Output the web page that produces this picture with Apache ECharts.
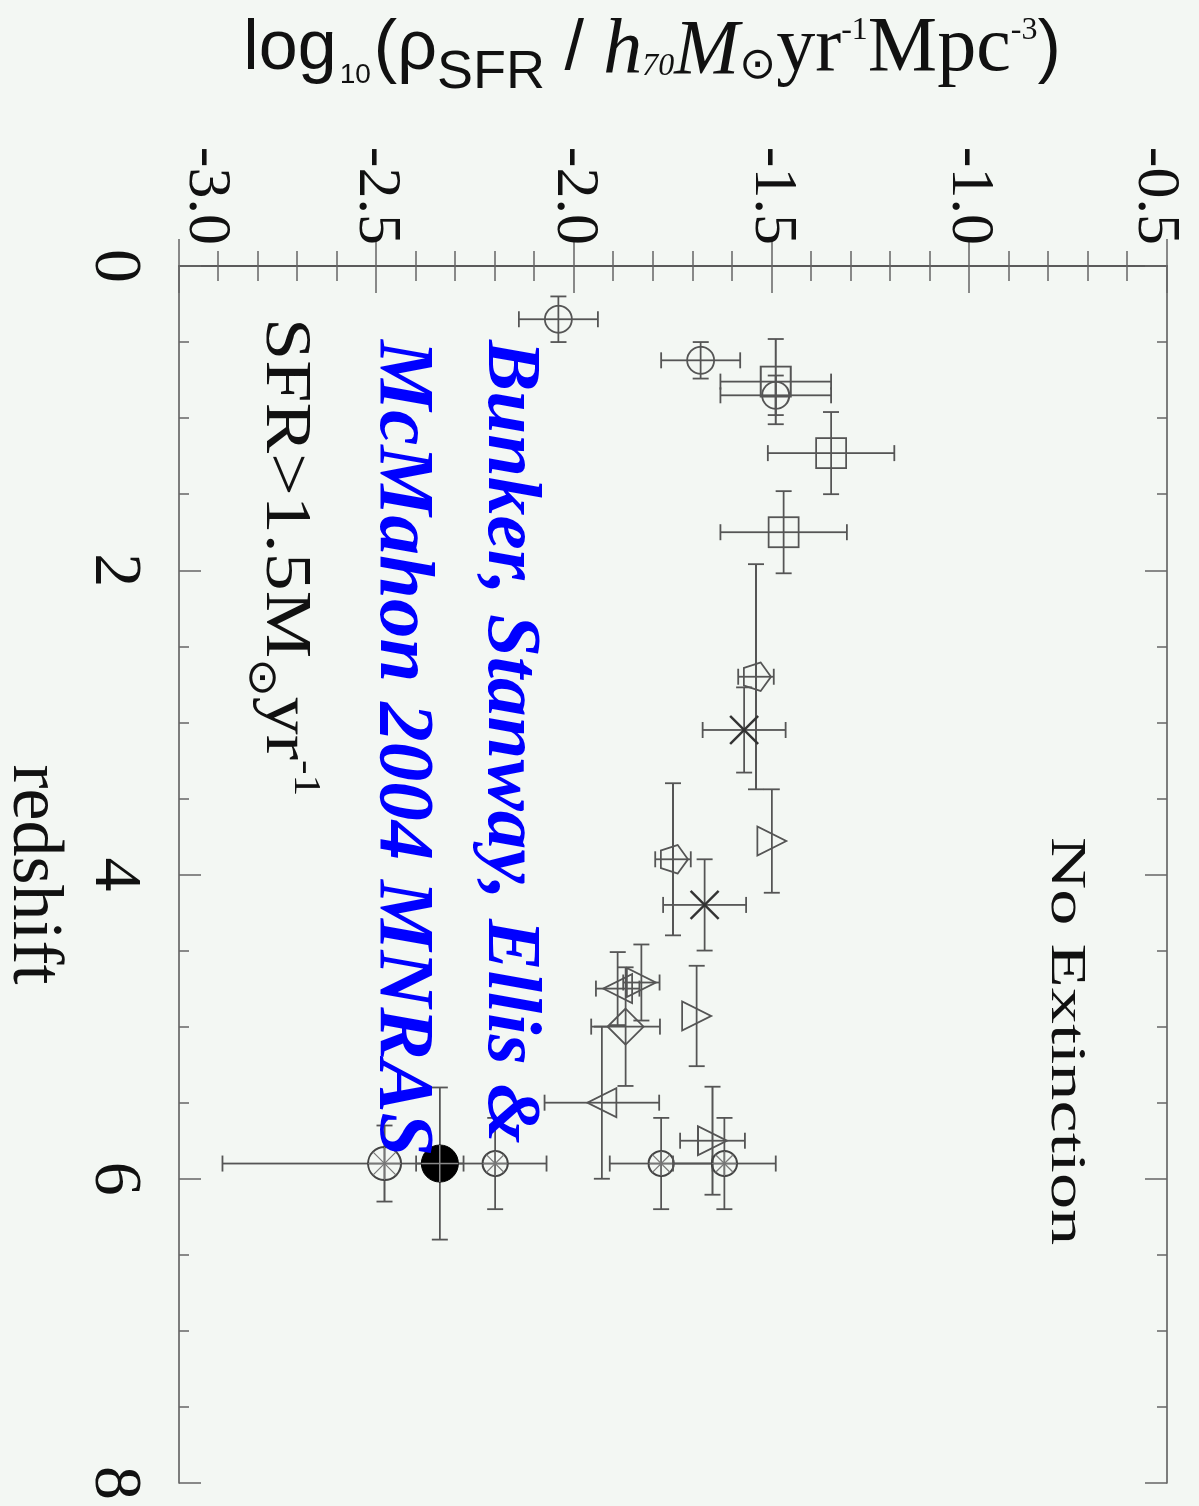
<!DOCTYPE html>
<html><head><meta charset="utf-8">
<script src="https://cdn.jsdelivr.net/npm/echarts@6/dist/echarts.min.js"></script>
<style>
html,body{margin:0;padding:0;width:1199px;height:1506px;overflow:hidden;background:#f3f7f3;}
#chart{position:absolute;left:0;top:0;width:1506px;height:1199px;transform-origin:0 0;transform:translateX(1199px) rotate(90deg);}
</style></head><body><div id="chart"></div>
<script>
// Each point: [redshift, log10 SFR density, redshift half-width, SFR error minus, SFR error plus]
const circlesCross   = [[0.35,-2.04,0.15,0.10,0.10],[0.62,-1.68,0.12,0.10,0.10],[0.85,-1.49,0.13,0.14,0.14]];
const squares        = [[0.76,-1.49,0.28,0.14,0.14],[1.23,-1.35,0.27,0.16,0.16],[1.75,-1.47,0.27,0.16,0.16]];
const pentagons      = [[2.70,-1.54,0.74,0.045,0.045],[3.90,-1.75,0.50,0.045,0.045]];
const crosses        = [[3.05,-1.57,0.28,0.105,0.105],[4.20,-1.67,0.30,0.105,0.105]];
const trianglesUp    = [[3.78,-1.50,0.34,0,0],[4.71,-1.83,0.25,0.046,0.046],[4.93,-1.69,0.33,0,0],[5.75,-1.65,0.355,0.082,0.082]];
const trianglesDown  = [[4.75,-1.89,0.24,0.055,0.055],[5.50,-1.93,0.50,0.145,0.145]];
const diamonds       = [[5.00,-1.87,0.39,0.087,0.087]];
const spokedLarge    = [[5.90,-2.48,0.25,0.41,0.41]];
const spokedSmall    = [[5.90,-2.20,0.30,0,0],[5.90,-1.78,0.30,0.13,0.13],[5.90,-1.62,0.30,0.13,0.13]];
const filledCircles  = [[5.90,-2.34,0.50,0.06,0.06]];

const redshiftTickLabels = ['0','2','4','6','8'];
const sfrTickLabels = ['-3.0','-2.5','-2.0','-1.5','-1.0','-0.5'];

const GRAY = '#555';
function makeRender(kind, size) {
  return function (params, api) {
    const z = api.value(0), s = api.value(1), ez = api.value(2), lo = api.value(3), hi = api.value(4);
    const c = api.coord([z, s]);
    const zl = api.coord([z - ez, s]), zr = api.coord([z + ez, s]);
    const sb = api.coord([z, s - lo]), st = api.coord([z, s + hi]);
    const cap = 8;
    const ls = {stroke: GRAY, lineWidth: 1.8, fill: 'none'};
    const ch = [];
    const line = (x1, y1, x2, y2, sty) => ch.push({type: 'line', shape: {x1, y1, x2, y2}, style: sty || ls});
    if (ez > 0) {
      line(zl[0], c[1], zr[0], c[1]);
      line(zl[0], c[1] - cap, zl[0], c[1] + cap);
      line(zr[0], c[1] - cap, zr[0], c[1] + cap);
    }
    if (lo > 0 || hi > 0) {
      line(c[0], sb[1], c[0], st[1]);
      line(c[0] - cap, sb[1], c[0] + cap, sb[1]);
      line(c[0] - cap, st[1], c[0] + cap, st[1]);
    }
    const x = c[0], y = c[1], r = size;
    const poly = pts => ch.push({type: 'polygon', shape: {points: pts}, style: ls});
    if (kind === 'circle') {
      ch.push({type: 'circle', shape: {cx: x, cy: y, r}, style: ls});
    } else if (kind === 'square') {
      ch.push({type: 'rect', shape: {x: x - r, y: y - r, width: 2 * r, height: 2 * r}, style: ls});
    } else if (kind === 'pentagon') {
      const pts = [];
      for (let k = 0; k < 5; k++) { const a = -Math.PI / 2 + k * 2 * Math.PI / 5; pts.push([x + r * Math.cos(a), y + r * Math.sin(a)]); }
      poly(pts);
    } else if (kind === 'cross') {
      const st2 = {stroke: '#333', lineWidth: 2.4};
      line(x - r, y - r, x + r, y + r, st2);
      line(x - r, y + r, x + r, y - r, st2);
    } else if (kind === 'triUp') {
      poly([[x, y - r], [x - r, y + r], [x + r, y + r]]);
    } else if (kind === 'triDown') {
      poly([[x, y + r], [x - r, y - r], [x + r, y - r]]);
    } else if (kind === 'diamond') {
      poly([[x, y - r], [x + r, y], [x, y + r], [x - r, y]]);
    } else if (kind === 'spoke') {
      ch.push({type: 'circle', shape: {cx: x, cy: y, r}, style: {stroke: '#444', lineWidth: 2, fill: 'none'}});
      const sp = {stroke: '#777', lineWidth: 1.2};
      for (let k = 0; k < 4; k++) {
        const a = k * Math.PI / 4;
        line(x - r * Math.cos(a), y - r * Math.sin(a), x + r * Math.cos(a), y + r * Math.sin(a), sp);
      }
    } else if (kind === 'filled') {
      ch.push({type: 'circle', shape: {cx: x, cy: y, r}, style: {fill: '#000', stroke: '#000'}});
      line(x - r, y, x + r, y, {stroke: '#888', lineWidth: 1.5});
      line(x, y - r, x, y + r, {stroke: '#888', lineWidth: 1.5});
    }
    return {type: 'group', children: ch};
  };
}

function ser(name, data, kind, size) {
  return {type: 'custom', name, data, coordinateSystem: 'cartesian2d', encode: {x: 0, y: 1},
          renderItem: makeRender(kind, size), silent: true, clip: false};
}

const tickStyle = {color: '#666', width: 1.5};
const axisLine = {show: true, lineStyle: {color: GRAY, width: 1.6}};

const chart = echarts.init(document.getElementById('chart'), null, {renderer: 'canvas'});
chart.setOption({
  backgroundColor: '#f3f7f3',
  animation: false,
  grid: {left: 266, right: 23, top: 32, bottom: 179, containLabel: false, outerBoundsMode: 'none'},
  xAxis: [{
    type: 'value', min: 0, max: 8, interval: 2, position: 'bottom',
    axisLine, splitLine: {show: false},
    axisTick: {inside: true, length: 22, lineStyle: tickStyle},
    minorTick: {show: true, splitNumber: 4, length: 10, lineStyle: tickStyle},
    axisLabel: {margin: 31, fontFamily: 'Liberation Serif', fontSize: 68, color: '#111',
      formatter: v => redshiftTickLabels[Math.round(v / 2)]},
    name: 'redshift', nameLocation: 'middle', nameGap: 110,
    nameTextStyle: {fontFamily: 'Liberation Serif', fontSize: 72, color: '#111'}
  }, {
    type: 'value', min: 0, max: 8, interval: 2, position: 'top',
    axisLine, splitLine: {show: false}, axisLabel: {show: false},
    axisTick: {inside: true, length: 22, lineStyle: tickStyle},
    minorTick: {show: true, splitNumber: 4, length: 10, lineStyle: tickStyle}
  }],
  yAxis: [{
    type: 'value', min: -3, max: -0.5, interval: 0.5, position: 'left',
    axisLine, splitLine: {show: false},
    axisTick: {inside: true, length: 27, lineStyle: tickStyle},
    minorTick: {show: true, splitNumber: 5, length: 15, lineStyle: tickStyle},
    axisLabel: {margin: 21, fontFamily: 'Liberation Serif', fontSize: 62, color: '#111',
      formatter: v => {
        const i = Math.round((v + 3) / 0.5);
        if (i === 0) return '{mn|' + sfrTickLabels[i] + '}';
        if (i === sfrTickLabels.length - 1) return '{mx|' + sfrTickLabels[i] + '}';
        return sfrTickLabels[i];
      },
      rich: {
        mn: {fontFamily: 'Liberation Serif', fontSize: 62, color: '#111', padding: [0, 0, 54, 0]},
        mx: {fontFamily: 'Liberation Serif', fontSize: 62, color: '#111', padding: [24, 0, 0, 0]}
      }},
    name: '{sans|log}{sub|10}{sans|(ρ}{sfr|SFR}{sans| / }{it|h}{it70|70}{it|M}{odot|⊙}{ser|yr}{sup|-1}{ser|Mpc}{sup|-3}{sans|)}',
    nameLocation: 'middle', nameRotate: 90, nameGap: 166,
    nameTextStyle: {
      padding: [0, 42, 0, 0],
      rich: {
        sans: {fontFamily: 'Liberation Sans', fontSize: 70, color: '#111', verticalAlign: 'middle'},
        sub: {fontFamily: 'Liberation Sans', fontSize: 28, color: '#111', verticalAlign: 'middle', padding: [50, 3, 0, 3]},
        sfr: {fontFamily: 'Liberation Sans', fontSize: 54, color: '#111', verticalAlign: 'middle', padding: [46, 0, 0, 0]},
        it: {fontFamily: 'Liberation Serif', fontStyle: 'italic', fontSize: 78, color: '#111', verticalAlign: 'middle', padding: [4, 0, 0, 0]},
        it70: {fontFamily: 'Liberation Serif', fontStyle: 'italic', fontSize: 32, color: '#111', verticalAlign: 'middle', padding: [34, 0, 0, 0]},
        odot: {fontFamily: 'DejaVu Sans', fontSize: 44, color: '#111', verticalAlign: 'middle', padding: [34, 0, 0, 0]},
        ser: {fontFamily: 'Liberation Serif', fontSize: 78, color: '#111', verticalAlign: 'middle'},
        sup: {fontFamily: 'Liberation Serif', fontSize: 32, color: '#111', verticalAlign: 'middle', padding: [0, 0, 38, 0]}
      }
    }
  }, {
    type: 'value', min: -3, max: -0.5, interval: 0.5, position: 'right',
    axisLine, splitLine: {show: false}, axisLabel: {show: false},
    axisTick: {inside: true, length: 27, lineStyle: tickStyle},
    minorTick: {show: true, splitNumber: 5, length: 15, lineStyle: tickStyle}
  }],
  graphic: [
    {type: 'text', x: 837, y: 134, scaleX: 1.42, z: 10,
     style: {text: 'No Extinction', font: '51px "Liberation Serif"', fill: '#111',
             align: 'left', verticalAlign: 'middle', textAlign: 'left', textVerticalAlign: 'middle'}},
    {type: 'text', x: 318, y: 915, scaleX: 1.15, z: 10,
     style: {text: '{a|SFR>1.5M}{o|⊙}{a|yr}{s|-1}', fill: '#111',
             align: 'left', verticalAlign: 'middle', textAlign: 'left', textVerticalAlign: 'middle',
             rich: {
               a: {fontFamily: 'Liberation Serif', fontSize: 66, fill: '#111', color: '#111'},
               o: {fontFamily: 'DejaVu Sans', fontSize: 40, fill: '#111', color: '#111', padding: [48, 0, 0, 0]},
               s: {fontFamily: 'Liberation Serif', fontSize: 38, fill: '#111', color: '#111', padding: [0, 0, 42, 0]}
             }}},
    {type: 'text', x: 340, y: 690, z: 10,
     style: {text: 'Bunker, Stanway, Ellis &', font: 'italic bold 77px "Liberation Serif"', fill: '#0000ff',
             align: 'left', verticalAlign: 'middle', textAlign: 'left', textVerticalAlign: 'middle'}},
    {type: 'text', x: 340, y: 798, z: 10,
     style: {text: 'McMahon 2004 MNRAS', font: 'italic bold 79px "Liberation Serif"', fill: '#0000ff',
             align: 'left', verticalAlign: 'middle', textAlign: 'left', textVerticalAlign: 'middle'}}
  ],
  series: [
    ser('open circles', circlesCross, 'circle', 13.5),
    ser('squares', squares, 'square', 15),
    ser('pentagons', pentagons, 'pentagon', 15),
    ser('crosses', crosses, 'cross', 14),
    ser('triangles up', trianglesUp, 'triUp', 14.5),
    ser('triangles down', trianglesDown, 'triDown', 14.5),
    ser('diamonds', diamonds, 'diamond', 18),
    ser('spoked large', spokedLarge, 'spoke', 16.5),
    ser('spoked small', spokedSmall, 'spoke', 12.5),
    ser('filled circles', filledCircles, 'filled', 18.5)
  ]
});
</script></body></html>
